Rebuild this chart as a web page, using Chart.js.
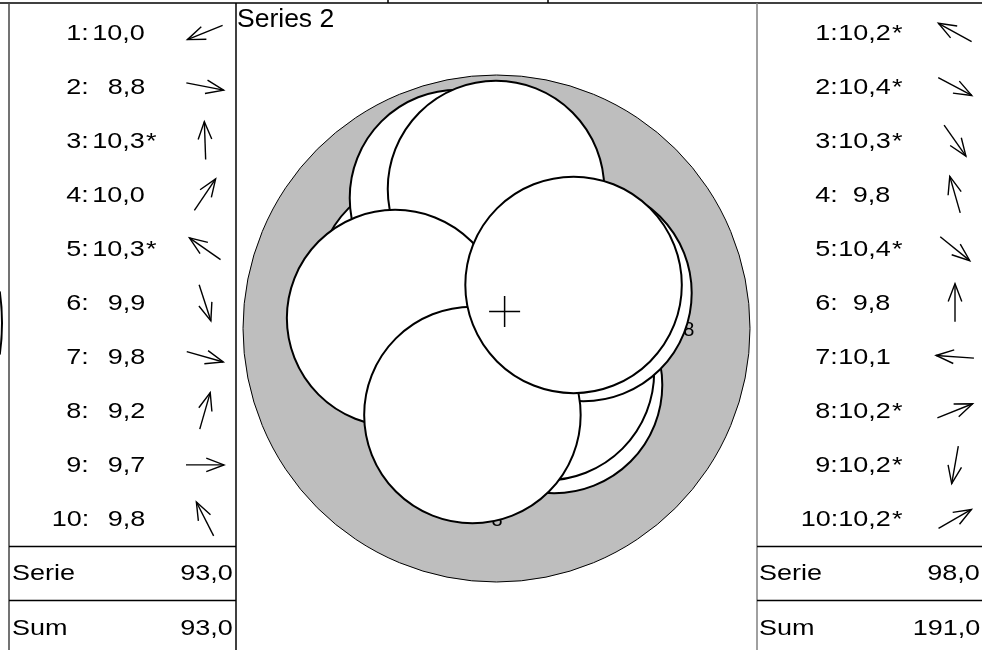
<!DOCTYPE html>
<html><head><meta charset="utf-8">
<script src="https://cdn.jsdelivr.net/npm/chart.js@4"></script>
<style>
html,body{margin:0;padding:0;background:#fff;}
#wrap{position:relative;width:982px;height:650px;overflow:hidden;}
canvas{position:absolute;left:0;top:0;}
.t{position:absolute;font-family:"Liberation Sans",Arial,sans-serif;font-size:22.5px;line-height:22.5px;white-space:nowrap;color:#000;}
.r{transform:scaleX(1.2);transform-origin:100% 50%;}
.l{transform:scaleX(1.2);transform-origin:0 50%;}
.star{position:absolute;left:100%;top:0;padding-left:1px;}
.title{position:absolute;left:237px;top:5px;font-family:"Liberation Sans",Arial,sans-serif;font-size:26.5px;line-height:26.5px;white-space:nowrap;}
</style></head>
<body><div id="wrap"><canvas id="c" width="982" height="650"></canvas><div id="txt"></div></div>
<script>
// ---- data ----
const seriesTitle = "Series 2";
const rowIndex = [1, 2, 3, 4, 5, 6, 7, 8, 9, 10];
const leftValues = [10.0, 8.8, 10.3, 10.0, 10.3, 9.9, 9.8, 9.2, 9.7, 9.8];
const leftMarked = [false, false, true, false, true, false, false, false, false, false];
const leftAngles = [202, -11, 92, 56, 145, -72, -16, 74, 0, 117];
const rightValues = [10.2, 10.4, 10.3, 9.8, 10.4, 9.8, 10.1, 10.2, 10.2, 10.2];
const rightMarked = [true, true, true, false, true, false, false, true, true, true];
const rightAngles = [151, -28, -55, 106, -39, 90, 176, 22, -100, 30];
const totalLabels = ["Serie", "Sum"];
const leftTotals = [93.0, 93.0];
const rightTotals = [98.0, 191.0];

// circle plot (chart units, outer ring centred at 0,0)
const ringX = [0], ringY = [0], ringR = [10];
const circleX = [2.27, 1.95, -2.82, -1.52, -0.02, -4.00, 3.43, -0.95, 3.04];
const circleY = [-2.23, -1.72, 1.72, 5.15, 5.50, 0.41, 1.40, -3.41, 1.72];
const circleR = [4.27, 4.27, 4.27, 4.27, 4.27, 4.27, 4.27, 4.27, 4.27];
const centreX = [0.32], centreY = [0.67];
const markText = ["8", "8"];
const markX = [7.59, 0.02];
const markY = [-0.06, -7.59];

// ---- text tables ----
const fmt = v => v.toFixed(1).replace('.', ',');
const W = 982;
const txt = document.getElementById('txt');
function addDiv(cls, html, style) {
  const d = document.createElement('div');
  d.className = 't ' + cls; d.innerHTML = html; d.setAttribute('style', style);
  txt.appendChild(d);
}
const rowTop0 = 21.8, rowStep = 54.05;
function table(values, marked, idxRight, valRight) {
  rowIndex.forEach((n, i) => {
    const top = rowTop0 + rowStep * i;
    addDiv('r', n + ':', `right:${W - idxRight}px;top:${top}px;`);
    addDiv('r', fmt(values[i]) + (marked[i] ? '<span class="star">*</span>' : ''), `right:${W - valRight}px;top:${top}px;`);
  });
}
table(leftValues, leftMarked, 89, 145);
table(rightValues, rightMarked, 838, 890.5);
const totTops = [562, 616.5];
totalLabels.forEach((lab, i) => {
  addDiv('l', lab, `left:11.7px;top:${totTops[i]}px;`);
  addDiv('r', fmt(leftTotals[i]), `right:${W - 233}px;top:${totTops[i]}px;`);
  addDiv('l', lab, `left:758.5px;top:${totTops[i]}px;`);
  addDiv('r', fmt(rightTotals[i]), `right:${W - 980}px;top:${totTops[i]}px;`);
});
const tdiv = document.createElement('div'); tdiv.className = 'title'; tdiv.textContent = seriesTitle; txt.appendChild(tdiv);

// ---- chart ----
const U = 25.35; // px per chart unit (matches the fixed scale ranges below)
const cxPix = 496.5, cyPix = 328.5;
const plotL = 237, plotR = 757;

const framePlugin = {
  id: 'frame',
  afterDatasetDraw(chart, args) {
    if (args.index !== 2) return;
    const ctx = chart.ctx, sx = chart.scales.x, sy = chart.scales.y;
    ctx.save();
    ctx.fillStyle = '#000';
    ctx.font = '20px "Liberation Sans", Arial, sans-serif';
    ctx.textAlign = 'center'; ctx.textBaseline = 'middle';
    markText.forEach((t, i) => ctx.fillText(t, sx.getPixelForValue(markX[i]), sy.getPixelForValue(markY[i])));
    ctx.restore();
  },
  afterDraw(chart) {
    const ctx = chart.ctx;
    ctx.save();
    ctx.lineCap = 'butt';
    const line = (x1, y1, x2, y2, c, w) => { ctx.strokeStyle = c; ctx.lineWidth = w; ctx.beginPath(); ctx.moveTo(x1, y1); ctx.lineTo(x2, y2); ctx.stroke(); };
    line(0, 3, 982, 3, '#000', 1.5);
    line(388, 0, 388, 3, '#000', 1.5);
    line(548, 0, 548, 3, '#000', 1.5);
    line(9, 3, 9, 650, '#444', 1.5);
    line(236, 3, 236, 650, '#000', 1.5);
    line(757, 3, 757, 650, '#808080', 1.5);
    [546.5, 600.5].forEach(y => { line(9, y, 236, y, '#000', 1.5); line(757, y, 982, y, '#000', 1.5); });
    // partial neighbour arc at the far left
    ctx.strokeStyle = '#000'; ctx.lineWidth = 2;
    ctx.beginPath(); ctx.arc(-224, 323, 226, -0.14, 0.14); ctx.stroke();
    // arrows
    const arrow = (cx, cy, deg) => {
      const a = deg * Math.PI / 180, L = 38, hl = 19, ha = 21 * Math.PI / 180;
      const dx = Math.cos(a), dy = -Math.sin(a);
      const tx = cx + dx * L / 2, ty = cy + dy * L / 2;
      const bx = cx - dx * L / 2, by = cy - dy * L / 2;
      ctx.strokeStyle = '#000'; ctx.lineWidth = 1.4;
      ctx.beginPath(); ctx.moveTo(bx, by); ctx.lineTo(tx, ty); ctx.stroke();
      const back = Math.atan2(-dy, -dx);
      ctx.beginPath();
      ctx.moveTo(tx + hl * Math.cos(back + ha), ty + hl * Math.sin(back + ha));
      ctx.lineTo(tx, ty);
      ctx.lineTo(tx + hl * Math.cos(back - ha), ty + hl * Math.sin(back - ha));
      ctx.stroke();
    };
    rowIndex.forEach((n, i) => {
      const cy = 32.5 + rowStep * i;
      arrow(205, cy, leftAngles[i]);
      arrow(955, cy, rightAngles[i]);
    });
    ctx.restore();
  }
};

new Chart(document.getElementById('c'), {
  type: 'bubble',
  data: {
    datasets: [
      { label: 'centre', order: 0, data: centreX.map((x, i) => ({ x, y: centreY[i], r: 15.5 })),
        pointStyle: 'cross', borderColor: '#000', borderWidth: 1.5, backgroundColor: 'transparent' },
      { label: 'circles', order: 1, data: circleX.map((x, i) => ({ x, y: circleY[i], r: circleR[i] * U })),
        backgroundColor: '#fff', borderColor: '#000', borderWidth: 2 },
      { label: 'ring', order: 2, data: ringX.map((x, i) => ({ x, y: ringY[i], r: ringR[i] * U })),
        backgroundColor: '#bebebe', borderColor: '#000', borderWidth: 1 }
    ]
  },
  options: {
    responsive: false, animation: false, events: [], devicePixelRatio: 1,
    layout: { autoPadding: false, padding: { left: plotL, right: 982 - plotR, top: 0, bottom: 0 } },
    plugins: { legend: { display: false }, tooltip: { enabled: false } },
    scales: {
      x: { type: 'linear', display: false, min: (plotL - cxPix) / U, max: (plotR - cxPix) / U },
      y: { type: 'linear', display: false, min: -(650 - cyPix) / U, max: cyPix / U }
    }
  },
  plugins: [framePlugin]
});
</script>
</body></html>
